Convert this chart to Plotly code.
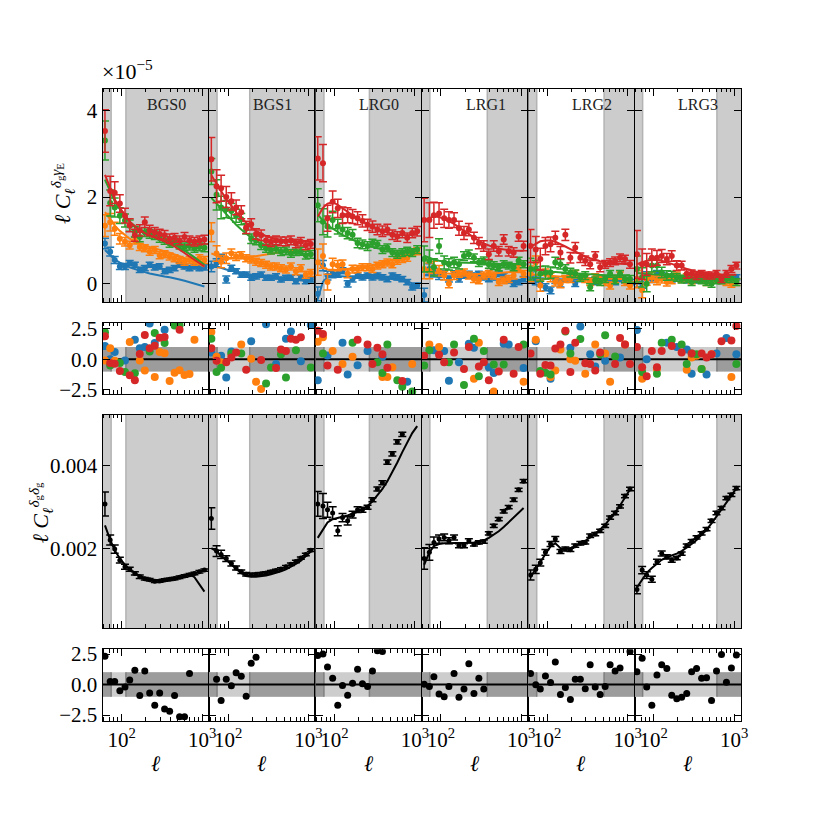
import math
import plotly.graph_objects as go

# ---------------- data ----------------
ell = [62, 72, 82, 95, 110, 126, 146, 168, 194, 223, 258, 297, 342, 395, 455, 525, 605, 698, 804, 927, 1069]
samples = ["BGS0", "BGS1", "LRG0", "LRG1", "LRG2", "LRG3"]
ell_min = [74, 73, 74, 73, 74, 73]
ell_max = [113, 186, 272, 378, 509, 612]
x_major = [100, 1000]
x_major_text = ["10<sup>2</sup>", "10<sup>3</sup>"]
x_minor = [60, 70, 80, 90, 200, 300, 400, 500, 600, 700, 800, 900]
ell_lo, ell_hi = 58, 1220

tracer_names = ["blue", "orange", "green", "red"]
tracer_colors = ["#1f77b4", "#ff7f0e", "#2ca02c", "#d62728"]

# ell * C_ell^{delta_g gamma_E}, units of 1e-5 (data, error, model)
gE_blue = [
    [0.93, 0.74, 0.55, 0.40, 0.40, 0.48, 0.44, 0.32, 0.36, 0.44, 0.38, 0.40, 0.29, 0.32, 0.36, 0.44, 0.40, 0.36, 0.40, 0.36, 0.38],
    [0.40, 0.48, 0.59, 0.10, 0.36, 0.29, 0.21, 0.21, 0.14, 0.17, 0.21, 0.14, 0.14, 0.17, 0.10, 0.14, 0.14, 0.06, 0.14, 0.06, 0.10],
    [-0.23, 0.42, 0.19, 0.23, 0.23, 0.30, 0.00, 0.11, 0.19, 0.15, 0.19, 0.15, 0.19, 0.15, 0.11, 0.19, 0.15, 0.11, 0.04, -0.08, -0.04],
    [-0.26, 0.34, 0.26, 0.19, 0.23, 0.11, 0.23, 0.11, 0.19, 0.23, 0.19, 0.23, 0.15, 0.11, 0.15, 0.23, 0.19, 0.08, 0.00, 0.04, 0.11],
    [0.15, 0.08, 0.04, -0.08, -0.15, 0.08, 0.00, 0.11, 0.15, 0.00, 0.11, 0.15, 0.08, 0.04, 0.11, 0.11, 0.08, 0.04, 0.11, 0.08, 0.04],
    [0.04, 0.00, 0.19, 0.11, 0.23, 0.19, 0.15, 0.11, 0.15, 0.11, 0.08, 0.19, 0.08, 0.11, 0.15, 0.08, 0.11, 0.15, 0.08, 0.11, 0.15],
]
gE_orange = [
    [1.34, 1.42, 1.27, 1.04, 0.97, 0.89, 1.00, 0.85, 0.82, 0.74, 0.78, 0.66, 0.68, 0.63, 0.59, 0.55, 0.51, 0.55, 0.51, 0.59, 0.55],
    [1.19, 0.70, 0.51, 0.59, 0.70, 0.63, 0.66, 0.59, 0.56, 0.51, 0.48, 0.44, 0.40, 0.40, 0.36, 0.33, 0.40, 0.29, 0.36, 0.21, 0.25],
    [0.50, 0.64, 0.04, 0.45, 0.42, 0.45, 0.23, 0.34, 0.34, 0.38, 0.38, 0.34, 0.42, 0.45, 0.49, 0.45, 0.53, 0.57, 0.60, 0.72, 0.75],
    [0.34, 0.30, 0.38, 0.30, 0.19, 0.00, 0.19, 0.23, 0.26, 0.19, 0.11, 0.08, 0.19, 0.23, 0.19, 0.04, 0.08, 0.11, 0.19, 0.34, 0.23],
    [0.23, 0.49, -0.04, 0.23, 0.15, 0.04, 0.00, 0.11, 0.11, 0.23, 0.15, 0.11, 0.04, 0.15, 0.11, 0.04, -0.04, 0.11, 0.19, 0.04, -0.04],
    [0.11, -0.15, 0.11, 0.15, 0.08, 0.11, 0.04, 0.08, 0.19, 0.11, 0.15, 0.08, 0.19, 0.11, 0.04, 0.11, 0.15, 0.08, 0.04, 0.00, 0.04],
]
gE_green = [
    [3.30, 1.86, 1.76, 1.57, 1.46, 1.34, 1.20, 1.08, 1.19, 1.15, 1.12, 1.05, 1.00, 0.93, 0.96, 0.89, 0.85, 0.87, 0.82, 0.85, 0.83],
    [2.59, 2.05, 1.76, 1.72, 1.68, 1.57, 1.49, 1.27, 1.04, 1.00, 0.89, 0.82, 0.78, 0.80, 0.74, 0.76, 0.70, 0.74, 0.75, 0.66, 0.68],
    [1.81, 1.43, 1.32, 1.47, 1.32, 1.25, 1.17, 1.13, 0.94, 0.91, 0.87, 0.94, 0.91, 0.79, 0.83, 0.72, 0.68, 0.72, 0.75, 0.72, 0.79],
    [0.57, 0.53, 0.38, 0.87, 0.49, 0.45, 0.49, 0.45, 0.64, 0.68, 0.60, 0.49, 0.53, 0.45, 0.42, 0.38, 0.45, 0.42, 0.38, 0.53, 0.45],
    [0.34, 0.34, 0.23, 0.26, 0.26, 0.49, 0.45, 0.34, 0.26, 0.23, 0.15, 0.19, -0.08, 0.08, 0.04, 0.11, 0.23, 0.08, 0.23, 0.11, 0.11],
    [0.34, 0.15, 0.00, 0.42, 0.42, 0.26, 0.19, 0.19, 0.15, 0.11, 0.11, 0.04, 0.11, 0.08, 0.04, 0.00, 0.08, 0.08, 0.11, 0.11, 0.04],
]
gE_red = [
    [3.52, 2.14, 2.10, 1.85, 1.57, 1.35, 1.12, 1.23, 1.42, 1.23, 1.19, 1.15, 1.12, 1.04, 1.06, 1.00, 1.08, 1.00, 0.97, 1.00, 1.02],
    [2.87, 2.25, 2.20, 2.00, 1.90, 1.76, 1.65, 1.30, 1.37, 1.15, 1.12, 1.00, 0.97, 1.00, 0.98, 0.98, 1.00, 0.93, 0.97, 0.89, 0.92],
    [2.89, 2.78, 1.51, 1.89, 1.74, 1.58, 1.58, 1.55, 1.51, 1.45, 1.36, 1.32, 1.25, 1.21, 1.25, 1.13, 1.09, 1.17, 1.06, 1.17, 1.21],
    [1.47, 1.47, 1.58, 1.62, 1.51, 1.47, 1.47, 1.28, 1.17, 1.25, 1.06, 0.94, 0.87, 0.68, 0.87, 0.75, 1.02, 0.75, 0.72, 1.09, 0.87],
    [0.87, 0.79, 0.57, 0.87, 0.91, 1.06, 0.72, 1.13, 0.60, 0.83, 0.60, 0.53, 0.45, 0.64, 0.38, 0.45, 0.49, 0.53, 0.60, 0.57, 0.45],
    [0.68, 0.45, 0.45, 0.60, 0.60, 0.64, 0.57, 0.64, 0.42, 0.42, 0.23, 0.23, 0.19, 0.23, 0.19, 0.19, 0.23, 0.11, 0.23, 0.34, 0.42],
]
gE_blue_err = [
    [0.12, 0.10, 0.08, 0.07, 0.07, 0.06, 0.06, 0.06, 0.06, 0.06, 0.06, 0.06, 0.06, 0.06, 0.06, 0.06, 0.06, 0.06, 0.06, 0.06, 0.06],
    [0.12, 0.10, 0.09, 0.08, 0.07, 0.06, 0.06, 0.06, 0.06, 0.06, 0.06, 0.06, 0.06, 0.06, 0.06, 0.06, 0.06, 0.06, 0.06, 0.06, 0.06],
    [0.16, 0.12, 0.10, 0.09, 0.08, 0.07, 0.07, 0.07, 0.06, 0.06, 0.06, 0.06, 0.06, 0.06, 0.06, 0.06, 0.06, 0.06, 0.06, 0.06, 0.06],
    [0.16, 0.12, 0.10, 0.09, 0.08, 0.07, 0.07, 0.07, 0.06, 0.06, 0.06, 0.06, 0.06, 0.06, 0.06, 0.06, 0.06, 0.06, 0.06, 0.06, 0.06],
    [0.12, 0.10, 0.09, 0.08, 0.08, 0.07, 0.07, 0.07, 0.06, 0.06, 0.06, 0.06, 0.06, 0.06, 0.06, 0.06, 0.06, 0.06, 0.06, 0.06, 0.06],
    [0.12, 0.10, 0.09, 0.08, 0.08, 0.07, 0.07, 0.07, 0.06, 0.06, 0.06, 0.06, 0.06, 0.06, 0.06, 0.06, 0.06, 0.06, 0.06, 0.06, 0.06],
]
gE_orange_err = [
    [0.25, 0.20, 0.15, 0.12, 0.10, 0.09, 0.08, 0.08, 0.08, 0.08, 0.08, 0.08, 0.08, 0.08, 0.08, 0.08, 0.08, 0.08, 0.08, 0.08, 0.08],
    [0.22, 0.18, 0.14, 0.12, 0.10, 0.09, 0.08, 0.08, 0.08, 0.08, 0.08, 0.08, 0.08, 0.08, 0.08, 0.08, 0.08, 0.08, 0.08, 0.08, 0.08],
    [0.30, 0.28, 0.18, 0.14, 0.12, 0.10, 0.09, 0.09, 0.08, 0.08, 0.08, 0.08, 0.08, 0.08, 0.08, 0.08, 0.08, 0.08, 0.08, 0.08, 0.08],
    [0.22, 0.18, 0.14, 0.12, 0.10, 0.09, 0.09, 0.08, 0.08, 0.08, 0.08, 0.08, 0.08, 0.08, 0.08, 0.08, 0.08, 0.08, 0.08, 0.08, 0.08],
    [0.18, 0.15, 0.13, 0.11, 0.10, 0.09, 0.09, 0.08, 0.08, 0.08, 0.08, 0.08, 0.08, 0.08, 0.08, 0.08, 0.08, 0.08, 0.08, 0.08, 0.08],
    [0.20, 0.17, 0.14, 0.12, 0.10, 0.09, 0.09, 0.08, 0.08, 0.08, 0.08, 0.08, 0.08, 0.08, 0.08, 0.08, 0.08, 0.08, 0.08, 0.08, 0.08],
]
gE_green_err = [
    [0.45, 0.30, 0.22, 0.18, 0.15, 0.13, 0.12, 0.11, 0.10, 0.10, 0.10, 0.09, 0.09, 0.09, 0.09, 0.09, 0.09, 0.09, 0.09, 0.09, 0.09],
    [0.30, 0.35, 0.26, 0.20, 0.17, 0.15, 0.13, 0.12, 0.11, 0.10, 0.10, 0.09, 0.09, 0.09, 0.09, 0.09, 0.09, 0.09, 0.09, 0.09, 0.09],
    [0.38, 0.30, 0.24, 0.20, 0.17, 0.15, 0.13, 0.12, 0.11, 0.10, 0.10, 0.09, 0.09, 0.09, 0.09, 0.09, 0.09, 0.09, 0.09, 0.09, 0.09],
    [0.30, 0.25, 0.20, 0.17, 0.15, 0.13, 0.12, 0.11, 0.10, 0.10, 0.09, 0.09, 0.09, 0.09, 0.09, 0.08, 0.08, 0.08, 0.08, 0.08, 0.08],
    [0.25, 0.20, 0.17, 0.15, 0.13, 0.12, 0.11, 0.10, 0.10, 0.09, 0.09, 0.09, 0.08, 0.08, 0.08, 0.08, 0.08, 0.08, 0.08, 0.08, 0.08],
    [0.30, 0.22, 0.18, 0.15, 0.13, 0.12, 0.11, 0.10, 0.09, 0.09, 0.08, 0.08, 0.08, 0.08, 0.08, 0.08, 0.08, 0.08, 0.08, 0.08, 0.08],
]
gE_red_err = [
    [0.49, 0.34, 0.25, 0.20, 0.17, 0.15, 0.14, 0.13, 0.12, 0.12, 0.11, 0.11, 0.11, 0.11, 0.10, 0.10, 0.10, 0.10, 0.10, 0.10, 0.10],
    [0.50, 0.38, 0.30, 0.24, 0.20, 0.17, 0.15, 0.14, 0.13, 0.12, 0.12, 0.11, 0.11, 0.10, 0.10, 0.10, 0.10, 0.10, 0.10, 0.10, 0.10],
    [0.50, 0.43, 0.30, 0.25, 0.21, 0.19, 0.17, 0.16, 0.15, 0.14, 0.13, 0.13, 0.12, 0.12, 0.12, 0.11, 0.11, 0.11, 0.11, 0.11, 0.11],
    [0.50, 0.40, 0.30, 0.25, 0.21, 0.19, 0.17, 0.16, 0.15, 0.14, 0.13, 0.13, 0.12, 0.12, 0.12, 0.11, 0.11, 0.11, 0.11, 0.11, 0.11],
    [0.38, 0.30, 0.25, 0.20, 0.17, 0.15, 0.14, 0.13, 0.12, 0.12, 0.11, 0.11, 0.10, 0.10, 0.10, 0.09, 0.09, 0.09, 0.09, 0.09, 0.09],
    [0.55, 0.35, 0.25, 0.20, 0.17, 0.15, 0.13, 0.12, 0.11, 0.10, 0.10, 0.09, 0.09, 0.08, 0.08, 0.08, 0.08, 0.08, 0.08, 0.08, 0.08],
]
gE_blue_model = [
    [0.78, 0.66, 0.56, 0.49, 0.43, 0.38, 0.34, 0.30, 0.27, 0.24, 0.21, 0.19, 0.17, 0.15, 0.13, 0.10, 0.07, 0.04, 0.01, -0.03, -0.06],
    [0.44, 0.40, 0.36, 0.33, 0.30, 0.27, 0.25, 0.23, 0.21, 0.19, 0.17, 0.16, 0.14, 0.13, 0.12, 0.11, 0.10, 0.09, 0.08, 0.07, 0.06],
    [-0.35, 0.05, 0.15, 0.18, 0.18, 0.17, 0.16, 0.15, 0.15, 0.14, 0.14, 0.13, 0.13, 0.12, 0.12, 0.11, 0.10, 0.08, 0.05, 0.02, -0.02],
    [0.20, 0.20, 0.19, 0.18, 0.17, 0.16, 0.15, 0.15, 0.14, 0.14, 0.13, 0.13, 0.12, 0.12, 0.11, 0.10, 0.10, 0.09, 0.08, 0.07, 0.06],
    [0.14, 0.13, 0.13, 0.12, 0.12, 0.11, 0.11, 0.10, 0.10, 0.10, 0.09, 0.09, 0.09, 0.09, 0.08, 0.08, 0.08, 0.08, 0.08, 0.08, 0.08],
    [0.12, 0.12, 0.12, 0.12, 0.12, 0.11, 0.11, 0.11, 0.11, 0.11, 0.11, 0.11, 0.11, 0.11, 0.11, 0.11, 0.11, 0.11, 0.11, 0.11, 0.11],
]
gE_orange_model = [
    [1.65, 1.48, 1.34, 1.22, 1.12, 1.04, 0.98, 0.93, 0.89, 0.85, 0.82, 0.78, 0.75, 0.72, 0.68, 0.64, 0.59, 0.54, 0.49, 0.44, 0.40],
    [0.70, 0.64, 0.60, 0.58, 0.58, 0.58, 0.59, 0.60, 0.62, 0.64, 0.66, 0.68, 0.70, 0.72, 0.74, 0.75, 0.76, 0.77, 0.78, 0.78, 0.78],
    [0.50, 0.38, 0.33, 0.32, 0.32, 0.33, 0.34, 0.35, 0.37, 0.39, 0.41, 0.43, 0.46, 0.49, 0.52, 0.55, 0.59, 0.63, 0.67, 0.72, 0.77],
    [0.35, 0.30, 0.27, 0.25, 0.24, 0.23, 0.22, 0.22, 0.22, 0.22, 0.22, 0.22, 0.23, 0.23, 0.24, 0.25, 0.26, 0.27, 0.28, 0.29, 0.30],
    [0.22, 0.21, 0.20, 0.19, 0.18, 0.17, 0.16, 0.15, 0.15, 0.14, 0.14, 0.13, 0.13, 0.12, 0.12, 0.12, 0.12, 0.12, 0.12, 0.12, 0.12],
    [0.14, 0.14, 0.13, 0.13, 0.12, 0.12, 0.12, 0.11, 0.11, 0.11, 0.10, 0.10, 0.10, 0.10, 0.10, 0.10, 0.10, 0.10, 0.10, 0.10, 0.10],
]
gE_green_model = [
    [2.40, 2.12, 1.90, 1.72, 1.56, 1.43, 1.33, 1.25, 1.19, 1.14, 1.10, 1.06, 1.02, 0.97, 0.91, 0.84, 0.77, 0.69, 0.61, 0.52, 0.44],
    [1.98, 1.85, 1.72, 1.60, 1.48, 1.36, 1.25, 1.15, 1.06, 0.98, 0.92, 0.86, 0.82, 0.78, 0.75, 0.73, 0.71, 0.70, 0.69, 0.68, 0.67],
    [1.60, 1.45, 1.35, 1.27, 1.20, 1.13, 1.07, 1.01, 0.96, 0.92, 0.88, 0.85, 0.82, 0.80, 0.78, 0.77, 0.76, 0.76, 0.77, 0.78, 0.80],
    [0.65, 0.60, 0.56, 0.53, 0.51, 0.50, 0.49, 0.49, 0.48, 0.48, 0.48, 0.48, 0.47, 0.46, 0.46, 0.45, 0.45, 0.45, 0.45, 0.45, 0.45],
    [0.35, 0.33, 0.31, 0.30, 0.28, 0.27, 0.26, 0.25, 0.24, 0.24, 0.23, 0.22, 0.22, 0.21, 0.21, 0.20, 0.20, 0.20, 0.20, 0.20, 0.20],
    [0.25, 0.24, 0.23, 0.22, 0.21, 0.20, 0.19, 0.18, 0.17, 0.16, 0.15, 0.14, 0.14, 0.13, 0.13, 0.12, 0.12, 0.12, 0.12, 0.12, 0.12],
]
gE_red_model = [
    [2.51, 2.20, 1.95, 1.75, 1.57, 1.43, 1.32, 1.24, 1.17, 1.12, 1.07, 1.03, 0.99, 0.93, 0.86, 0.79, 0.71, 0.63, 0.55, 0.47, 0.40],
    [2.50, 2.30, 2.12, 1.95, 1.80, 1.65, 1.52, 1.40, 1.30, 1.22, 1.15, 1.10, 1.06, 1.03, 1.01, 1.00, 0.99, 0.98, 0.98, 0.97, 0.97],
    [1.55, 1.75, 1.85, 1.88, 1.82, 1.74, 1.66, 1.58, 1.50, 1.43, 1.37, 1.31, 1.26, 1.22, 1.18, 1.15, 1.13, 1.12, 1.12, 1.13, 1.15],
    [1.45, 1.52, 1.55, 1.54, 1.50, 1.45, 1.38, 1.30, 1.22, 1.14, 1.06, 0.99, 0.93, 0.88, 0.84, 0.81, 0.79, 0.77, 0.76, 0.76, 0.76],
    [0.85, 0.92, 0.98, 1.00, 1.00, 0.97, 0.92, 0.86, 0.80, 0.74, 0.68, 0.63, 0.59, 0.55, 0.52, 0.50, 0.48, 0.47, 0.46, 0.45, 0.45],
    [0.45, 0.50, 0.53, 0.55, 0.55, 0.53, 0.50, 0.46, 0.42, 0.38, 0.34, 0.31, 0.28, 0.26, 0.24, 0.23, 0.22, 0.21, 0.21, 0.21, 0.21],
]

# normalised residuals of the delta_g x gamma_E spectra
gE_res_blue = [
    [1.08, 0.0, 0.6, None, -0.1, None, 1.61, 0.9, 1.0, 2.94, 1.34, None, 2.42, None, None, None, None, None, None, None, None],
    [0.55, None, 0.28, -1.5, 0.63, None, None, None, 1.48, None, None, 2.87, None, -0.39, None, 1.69, 2.28, None, -0.17, None, 2.81],
    [-1.72, None, 0.3, None, None, 1.35, -1.24, None, -0.5, None, 0.68, None, None, 0.2, None, None, None, None, -1.85, None, None],
    [None, None, 0.73, None, 0.68, -1.77, None, -0.25, None, 1.27, 0.95, None, None, -0.65, -1.13, None, 1.27, 1.21, None, None, -0.71],
    [None, 1.48, None, None, -1.59, None, None, None, 0.95, None, 2.68, None, 0.41, -0.6, None, -0.12, None, None, 0.15, None, None],
    [2.41, None, 0.01, None, None, None, 1.35, None, 1.0, None, 0.81, -1.19, None, None, -1.24, None, 0.47, None, 1.75, None, 0.41],
]
gE_res_orange = [
    [-0.1, 0.9, -0.12, None, None, 1.42, None, -0.1, -0.93, None, -1.45, 0.6, 0.5, -1.78, -1.1, -0.9, -1.3, -1.2, 1.6, None, None],
    [2.23, 0.2, -0.25, None, 0.4, None, 1.21, None, 0.05, -1.85, -2.44, None, None, None, None, None, None, None, None, None, None],
    [1.43, 1.8, None, 0.68, None, -0.39, None, 0.2, None, None, None, None, None, -1.45, -1.45, -0.65, None, None, None, -0.39, None],
    [None, 1.21, None, 1.0, None, None, None, None, None, None, -1.59, 1.35, None, None, -2.65, None, None, None, None, None, -1.85],
    [None, 1.61, None, None, -1.45, -0.92, 0.81, None, 0.0, -0.12, None, -1.19, None, 1.21, None, 0.47, -1.85, None, None, 1.21, None],
    [None, -1.59, None, None, -0.79, None, None, None, None, None, -0.87, 0.15, 0.28, -0.79, None, 0.41, None, None, None, -1.45, None],
]
gE_res_green = [
    [2.22, -0.52, None, -0.3, -1.05, None, -1.14, None, None, 0.64, 2.16, None, 1.34, None, 2.76, 2.8, None, None, None, None, None],
    [1.69, -1.05, -0.7, None, 0.47, None, 0.47, None, None, None, None, -1.99, -0.67, None, 0.41, -1.5, None, 0.73, None, None, -0.67],
    [None, 0.47, None, None, None, None, None, 1.35, None, None, None, None, -0.25, -1.13, 1.21, None, -1.72, -2.25, None, -2.65, None],
    [-0.52, 0.73, None, None, None, -0.25, 1.21, None, -2.12, None, 1.69, -1.4, 0.68, None, -0.44, None, -0.44, None, None, None, 1.21],
    [None, None, -0.97, -1.1, -1.24, None, None, 2.28, 0.47, None, 1.67, None, None, None, 0.41, 1.96, None, 0.23, None, None, None],
    [None, -1.05, None, None, -1.19, 1.35, None, 1.61, None, 1.21, -0.39, 0.47, 0.41, -0.79, None, None, None, None, None, None, -0.39],
]
gE_res_red = [
    [1.88, -0.3, -0.37, -0.97, None, -1.32, -1.73, 0.44, 2.0, 0.9, 1.1, 1.76, 1.82, None, None, 2.42, None, None, None, None, None],
    [0.9, -0.12, None, -0.25, 0.15, 0.55, None, -0.87, None, None, -0.07, None, None, -0.71, 0.81, 0.68, 1.69, 1.61, 1.8, None, None],
    [2.33, 2.07, -0.52, None, -0.87, None, None, None, 1.61, None, 1.21, -0.39, 0.95, 0.41, -0.7, None, None, -1.79, None, None, None],
    [0.28, None, None, 0.36, -0.25, None, 0.55, None, -0.79, 1.0, None, -0.6, -0.25, -1.72, None, -1.0, 1.61, None, -1.19, 1.0, None],
    [0.47, None, -1.19, -0.47, -0.52, 0.89, 1.21, 2.33, -1.05, 1.35, None, -0.33, -0.39, -0.92, 0.55, None, None, -0.39, 1.75, 1.21, -0.39],
    [1.0, -0.65, -1.4, 0.68, -0.65, 0.68, None, 1.08, None, 0.55, None, 0.47, None, 0.47, 0.15, 0.41, None, 1.48, None, 1.53, 2.73],
]

# ell * C_ell^{delta_g delta_g}
gg_data = [
    [0.00307, 0.00220, 0.00198, 0.00171, 0.00155, 0.00149, 0.00139, 0.00131, 0.00126, 0.00124, 0.00120, 0.00121, 0.00123, 0.00125, 0.00127, 0.00130, 0.00133, 0.00136, 0.00139, 0.00143, 0.00147],
    [0.00272, 0.00193, 0.00185, 0.00175, 0.00163, 0.00152, 0.00143, 0.00137, 0.00136, 0.00137, 0.00138, 0.00140, 0.00143, 0.00146, 0.00150, 0.00155, 0.00161, 0.00168, 0.00176, 0.00185, 0.00195],
    [0.00307, 0.00302, 0.00293, 0.00285, 0.00242, 0.00274, 0.00266, 0.00281, 0.00293, 0.00293, 0.00299, 0.00317, 0.00343, 0.00358, 0.00408, 0.00428, 0.00457, 0.00475, 0.00540, 0.00590, 0.00650],
    [0.00175, 0.00190, 0.00214, 0.00222, 0.00226, 0.00218, 0.00226, 0.00206, 0.00206, 0.00218, 0.00209, 0.00214, 0.00216, 0.00236, 0.00254, 0.00270, 0.00289, 0.00299, 0.00317, 0.00341, 0.00362],
    [0.00135, 0.00149, 0.00165, 0.00190, 0.00210, 0.00222, 0.00192, 0.00198, 0.00196, 0.00206, 0.00212, 0.00214, 0.00230, 0.00234, 0.00242, 0.00254, 0.00274, 0.00285, 0.00301, 0.00326, 0.00343],
    [0.00100, 0.00147, 0.00135, 0.00125, 0.00167, 0.00187, 0.00179, 0.00171, 0.00176, 0.00187, 0.00206, 0.00217, 0.00226, 0.00236, 0.00246, 0.00266, 0.00285, 0.00297, 0.00321, 0.00329, 0.00345],
]
gg_err = [
    [0.00029, 0.00012, 0.00010, 0.00007, 0.00006, 0.00005, 0.00004, 0.00004, 0.00003, 0.00003, 0.00003, 0.00003, 0.00003, 0.00003, 0.00003, 0.00003, 0.00003, 0.00003, 0.00003, 0.00003, 0.00003],
    [0.00026, 0.00013, 0.00010, 0.00007, 0.00006, 0.00005, 0.00004, 0.00004, 0.00003, 0.00003, 0.00003, 0.00003, 0.00003, 0.00003, 0.00003, 0.00003, 0.00003, 0.00003, 0.00003, 0.00003, 0.00003],
    [0.00030, 0.00030, 0.00018, 0.00015, 0.00012, 0.00010, 0.00010, 0.00008, 0.00007, 0.00006, 0.00005, 0.00005, 0.00005, 0.00005, 0.00005, 0.00005, 0.00005, 0.00005, 0.00005, 0.00005, 0.00005],
    [0.00026, 0.00019, 0.00013, 0.00010, 0.00008, 0.00007, 0.00006, 0.00005, 0.00005, 0.00005, 0.00004, 0.00004, 0.00004, 0.00004, 0.00004, 0.00004, 0.00004, 0.00004, 0.00004, 0.00004, 0.00004],
    [0.00012, 0.00010, 0.00008, 0.00007, 0.00006, 0.00006, 0.00005, 0.00005, 0.00004, 0.00004, 0.00004, 0.00004, 0.00004, 0.00004, 0.00004, 0.00004, 0.00004, 0.00004, 0.00004, 0.00004, 0.00004],
    [0.00010, 0.00009, 0.00008, 0.00007, 0.00006, 0.00006, 0.00005, 0.00005, 0.00004, 0.00004, 0.00004, 0.00004, 0.00004, 0.00004, 0.00004, 0.00004, 0.00004, 0.00004, 0.00004, 0.00004, 0.00004],
]
gg_model = [
    [0.00255, 0.00220, 0.00195, 0.00175, 0.00160, 0.00149, 0.00140, 0.00133, 0.00128, 0.00124, 0.00122, 0.00122, 0.00123, 0.00125, 0.00127, 0.00130, 0.00133, 0.00137, 0.00130, 0.00113, 0.00095],
    [0.00200, 0.00192, 0.00182, 0.00172, 0.00161, 0.00150, 0.00140, 0.00133, 0.00131, 0.00131, 0.00132, 0.00134, 0.00137, 0.00140, 0.00144, 0.00149, 0.00155, 0.00162, 0.00170, 0.00180, 0.00192],
    [0.00225, 0.00245, 0.00262, 0.00270, 0.00274, 0.00276, 0.00279, 0.00283, 0.00288, 0.00294, 0.00302, 0.00313, 0.00327, 0.00343, 0.00362, 0.00384, 0.00407, 0.00432, 0.00457, 0.00478, 0.00495],
    [0.00160, 0.00190, 0.00205, 0.00210, 0.00212, 0.00212, 0.00212, 0.00212, 0.00212, 0.00213, 0.00214, 0.00216, 0.00219, 0.00225, 0.00232, 0.00241, 0.00251, 0.00262, 0.00273, 0.00285, 0.00297],
    [0.00130, 0.00148, 0.00166, 0.00186, 0.00204, 0.00212, 0.00200, 0.00198, 0.00200, 0.00205, 0.00211, 0.00218, 0.00226, 0.00235, 0.00245, 0.00257, 0.00271, 0.00286, 0.00303, 0.00322, 0.00342],
    [0.00105, 0.00125, 0.00140, 0.00152, 0.00163, 0.00172, 0.00178, 0.00182, 0.00187, 0.00193, 0.00201, 0.00210, 0.00220, 0.00232, 0.00245, 0.00260, 0.00276, 0.00293, 0.00310, 0.00327, 0.00345],
]
gg_res = [
    [2.32, 0.24, 0.24, -0.5, -0.21, 0.38, 1.18, -0.9, 1.1, -0.69, -1.7, -0.69, -2.0, -2.2, -0.9, -2.64, -2.64, 0.91, None, None, None],
    [None, 0.43, -1.3, 0.43, -0.1, 0.96, 0.67, -0.96, 1.74, 2.24, None, None, None, None, None, None, None, None, None, None, None],
    [2.38, 2.5, 1.44, 0.51, -1.7, -0.08, -0.88, 0.11, 1.26, 0.06, -0.16, 1.12, 2.78, 2.7, None, None, None, None, None, None, None],
    [0.03, -0.16, 0.64, -0.77, -1.0, -0.16, 0.91, -1.04, -0.37, 1.71, -0.74, 0.51, -0.37, None, None, None, None, None, None, None, None],
    [0.91, -0.02, -0.37, 0.7, 0.16, 1.84, -0.82, -0.24, -1.22, 0.43, 0.43, -0.34, 1.63, -0.21, -0.82, -0.16, 1.63, 1.1, 1.36, None, 2.7],
    [1.04, 2.16, -0.21, -1.7, 0.78, 1.63, 1.31, -0.88, -1.17, -1.04, -0.74, 1.04, 1.31, 0.51, 0.56, -1.3, 1.1, 2.46, 0.19, 1.36, 2.43],
]

gE_data = [gE_blue, gE_orange, gE_green, gE_red]
gE_errs = [gE_blue_err, gE_orange_err, gE_green_err, gE_red_err]
gE_models = [gE_blue_model, gE_orange_model, gE_green_model, gE_red_model]
gE_res = [gE_res_blue, gE_res_orange, gE_res_green, gE_res_red]

# ---------------- layout geometry (pixels of the 830x830 canvas) ----------------
W = H = 830
col_left, col_w = 103.5, 107.3
rows_px = [(83, 300.5), (321.5, 394), (415, 632.5), (654, 727)]
y_ranges = [[-0.42, 4.5], [-2.84, 3.0], [0.00007, 0.00523], [-2.98, 2.9]]
y_ticks = [[0, 2, 4], [-2.5, 0, 2.5], [0.002, 0.004], [-2.5, 0, 2.5]]
y_ticktext = [["0", "2", "4"], ["−2.5", "0.0", "2.5"], ["0.002", "0.004"], ["−2.5", "0.0", "2.5"]]

FONT = "Liberation Serif"
SHADE = "#cccccc"
SHADE_EDGE = "#b3b3b3"
BAND_LIGHT = "#cdcdcd"
BAND_DARK = "#9c9c9c"
BAND_EDGE = "#7f7f7f"

fig = go.Figure()
layout = dict(width=W, height=H, margin=dict(l=0, r=0, t=0, b=0),
              paper_bgcolor="white", plot_bgcolor="white", showlegend=False,
              font=dict(family=FONT, size=21, color="black"))
annotations = []


def names(r, c):
    n = r * 6 + c + 1
    return ("x" if n == 1 else f"x{n}"), ("y" if n == 1 else f"y{n}"), n


for r in range(4):
    for c in range(6):
        xn, yn, n = names(r, c)
        x0 = (col_left + c * col_w) / W
        x1 = (col_left + (c + 1) * col_w) / W
        y0 = 1 - rows_px[r][1] / H
        y1 = 1 - rows_px[r][0] / H
        xkey = "xaxis" if n == 1 else f"xaxis{n}"
        ykey = "yaxis" if n == 1 else f"yaxis{n}"
        layout[xkey] = dict(
            type="log", range=[math.log10(ell_lo), math.log10(ell_hi)], domain=[x0, x1], anchor=yn,
            showline=True, linecolor="black", linewidth=1.3, mirror="allticks",
            ticks="inside", ticklen=7, tickwidth=1.2, tickcolor="black",
            tickmode="array", tickvals=x_major, ticktext=x_major_text,
            showticklabels=(r == 3), tickfont=dict(family=FONT, size=21, color="black"),
            showgrid=False, zeroline=False,
            minor=dict(tickmode="array", tickvals=x_minor, ticks="inside", ticklen=3.5,
                       tickwidth=1, tickcolor="black", showgrid=False),
        )
        layout[ykey] = dict(
            range=y_ranges[r], domain=[y0, y1], anchor=xn,
            showline=True, linecolor="black", linewidth=1.3, mirror="allticks",
            ticks="inside", ticklen=7, tickwidth=1.2, tickcolor="black",
            tickmode="array", tickvals=y_ticks[r], ticktext=y_ticktext[r],
            showticklabels=(c == 0), tickfont=dict(family=FONT, size=21, color="black"),
            showgrid=False, zeroline=False,
        )

        lo, hi = y_ranges[r]
        emin, emax = ell_min[c], ell_max[c]
        if r in (0, 2):
            # excluded scales shaded
            for xa_, xb_ in ((ell_lo, emin), (emax, ell_hi)):
                fig.add_trace(go.Scatter(x=[xa_, xb_, xb_, xa_, xa_], y=[lo, lo, hi, hi, lo],
                                         mode="lines", fill="toself", fillcolor=SHADE,
                                         line=dict(width=0), hoverinfo="skip", xaxis=xn, yaxis=yn))
            for e in (emin, emax):
                fig.add_trace(go.Scatter(x=[e, e], y=[lo, hi], mode="lines",
                                         line=dict(color=SHADE_EDGE, width=1.5),
                                         hoverinfo="skip", xaxis=xn, yaxis=yn))
        else:
            fig.add_trace(go.Scatter(x=[ell_lo, ell_hi, ell_hi, ell_lo, ell_lo], y=[-1, -1, 1, 1, -1],
                                     mode="lines", fill="toself", fillcolor=BAND_LIGHT,
                                     line=dict(width=0), hoverinfo="skip", xaxis=xn, yaxis=yn))
            for xa_, xb_ in ((ell_lo, emin), (emax, ell_hi)):
                fig.add_trace(go.Scatter(x=[xa_, xb_, xb_, xa_, xa_], y=[-1, -1, 1, 1, -1],
                                         mode="lines", fill="toself", fillcolor=BAND_DARK,
                                         line=dict(width=0), hoverinfo="skip", xaxis=xn, yaxis=yn))
            for e in (emin, emax):
                fig.add_trace(go.Scatter(x=[e, e], y=[-1, 1], mode="lines",
                                         line=dict(color=BAND_EDGE, width=1.5),
                                         hoverinfo="skip", xaxis=xn, yaxis=yn))
            fig.add_trace(go.Scatter(x=[ell_lo, ell_hi], y=[0, 0], mode="lines",
                                     line=dict(color="black", width=2),
                                     hoverinfo="skip", xaxis=xn, yaxis=yn))

        if r == 0:
            for t in range(4):
                col = tracer_colors[t]
                fig.add_trace(go.Scatter(
                    x=ell, y=gE_data[t][c], mode="markers",
                    marker=dict(color=col, size=6),
                    error_y=dict(type="data", array=gE_errs[t][c], visible=True,
                                 color=col, thickness=1.5, width=4),
                    xaxis=xn, yaxis=yn))
                fig.add_trace(go.Scatter(
                    x=ell, y=gE_models[t][c], mode="lines",
                    line=dict(color=col, width=2), xaxis=xn, yaxis=yn))
            annotations.append(dict(text=samples[c], xref=f"{xn} domain", yref=f"{yn} domain",
                                    x=0.6, y=0.926, showarrow=False, xanchor="center", yanchor="middle",
                                    font=dict(family=FONT, size=16, color="#222222")))
        elif r == 1:
            for t in range(4):
                fig.add_trace(go.Scatter(
                    x=ell, y=gE_res[t][c], mode="markers",
                    marker=dict(color=tracer_colors[t], size=8),
                    xaxis=xn, yaxis=yn))
        elif r == 2:
            fig.add_trace(go.Scatter(
                x=ell, y=gg_data[c], mode="markers",
                marker=dict(color="black", size=5),
                error_y=dict(type="data", array=gg_err[c], visible=True,
                             color="black", thickness=1.5, width=4),
                xaxis=xn, yaxis=yn))
            fig.add_trace(go.Scatter(
                x=ell, y=gg_model[c], mode="lines",
                line=dict(color="black", width=2), xaxis=xn, yaxis=yn))
        else:
            fig.add_trace(go.Scatter(
                x=ell, y=gg_res[c], mode="markers",
                marker=dict(color="black", size=7),
                xaxis=xn, yaxis=yn))
            annotations.append(dict(text="<i>ℓ</i>", xref=f"{xn} domain", yref="paper",
                                    x=0.5, y=1 - 770 / H, showarrow=False,
                                    xanchor="center", yanchor="middle",
                                    font=dict(family=FONT, size=22, color="black")))

# offset text and y-axis titles
annotations.append(dict(text="×10<sup>−5</sup>", xref="paper", yref="paper",
                        x=101 / W, y=1 - 80 / H, xanchor="left", yanchor="bottom", showarrow=False,
                        font=dict(family=FONT, size=22, color="black")))
annotations.append(dict(text="<i>ℓ C</i><sub><i>ℓ</i></sub><sup><i>δ</i><sub>g</sub><i>γ</i><sub>E</sub></sup>",
                        xref="paper", yref="paper", x=63 / W, y=1 - 190 / H, textangle=-90,
                        showarrow=False, xanchor="center", yanchor="middle",
                        font=dict(family=FONT, size=22, color="black")))
annotations.append(dict(text="<i>ℓ C</i><sub><i>ℓ</i></sub><sup><i>δ</i><sub>g</sub><i>δ</i><sub>g</sub></sup>",
                        xref="paper", yref="paper", x=41 / W, y=1 - 515 / H, textangle=-90,
                        showarrow=False, xanchor="center", yanchor="middle",
                        font=dict(family=FONT, size=22, color="black")))

layout["annotations"] = annotations
fig.update_layout(**layout)
fig.update_traces(showlegend=False)
fig.write_html("out.html", config={"displayModeBar": False},
               post_script="document.body.style.margin='0';document.body.style.padding='0';")
